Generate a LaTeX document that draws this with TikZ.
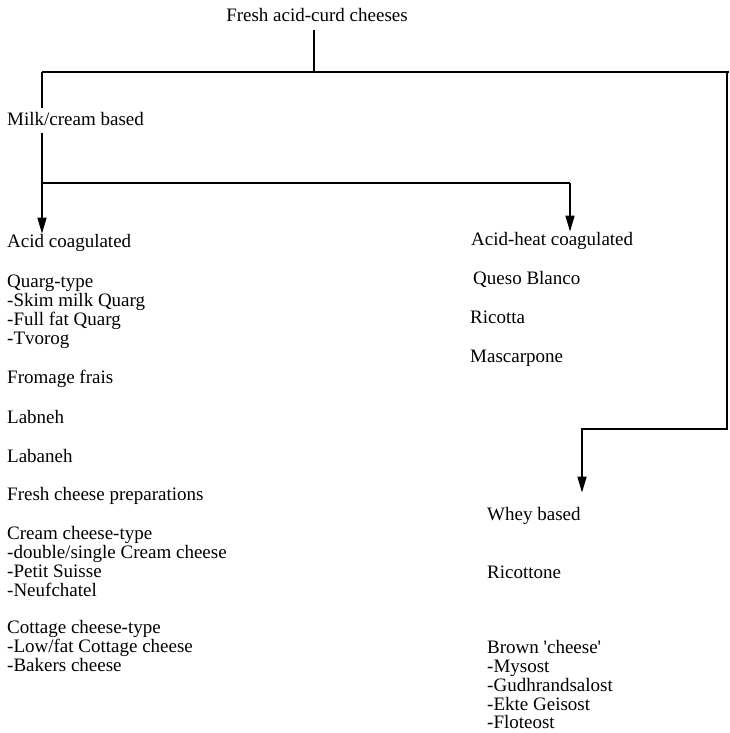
\documentclass[tikz,border=0pt]{standalone}
\usepackage{fontspec}
\setmainfont{Liberation Serif}
\usetikzlibrary{arrows.meta}
\begin{document}
\begin{tikzpicture}[x=1pt,y=-1pt,
  lbl/.style={anchor=base west, inner sep=0pt, font=\fontsize{19}{19}\selectfont},
  conn/.style={line width=1.6pt},
  arr/.style={conn, -{Triangle[length=16pt,width=9pt]}}]
\useasboundingbox (0,0) rectangle (729,733);
\fill[white] (0,0) rectangle (729,733);

% root
\node[lbl, anchor=base] (root) at (317,22) {Fresh acid-curd cheeses};

% main branches
\node[lbl] (milk) at (7,125) {Milk/cream based};
\node[lbl] (acid) at (7,247) {Acid coagulated};
\node[lbl] (heat) at (471,245) {Acid-heat coagulated};
\node[lbl] (whey) at (487,520) {Whey based};

% acid coagulated products
\node[lbl] (q0) at (7,287) {Quarg-type};
\node[lbl] (q1) at (7,306) {-Skim milk Quarg};
\node[lbl] (q2) at (7,325) {-Full fat Quarg};
\node[lbl] (q3) at (7,344) {-Tvorog};
\node[lbl] (ff) at (7,383) {Fromage frais};
\node[lbl] (lb1) at (7,423) {Labneh};
\node[lbl] (lb2) at (7,462) {Labaneh};
\node[lbl] (fcp) at (7,500) {Fresh cheese preparations};
\node[lbl] (c0) at (7,539) {Cream cheese-type};
\node[lbl] (c1) at (7,558) {-double/single Cream cheese};
\node[lbl] (c2) at (7,577) {-Petit Suisse};
\node[lbl] (c3) at (7,596) {-Neufchatel};
\node[lbl] (k0) at (7,633) {Cottage cheese-type};
\node[lbl] (k1) at (7,652) {-Low/fat Cottage cheese};
\node[lbl] (k2) at (7,671) {-Bakers cheese};

% acid-heat coagulated products
\node[lbl] (qb) at (473,284) {Queso Blanco};
\node[lbl] (ric) at (470,323) {Ricotta};
\node[lbl] (mas) at (470,362) {Mascarpone};

% whey based products
\node[lbl] (rtn) at (487,578) {Ricottone};
\node[lbl] (b0) at (487,653) {Brown \textquotesingle cheese\textquotesingle};
\node[lbl] (b1) at (487,672) {-Mysost};
\node[lbl] (b2) at (487,691) {-Gudhrandsalost};
\node[lbl] (b3) at (487,710) {-Ekte Geisost};
\node[lbl] (b4) at (487,728) {-Floteost};

% junction points
\coordinate (jT) at (314,72);
\coordinate (barL) at (42,72);
\coordinate (barR) at (729,72);
\coordinate (rTop) at (727,72);
\coordinate (jM) at (42,183);
\coordinate (jR) at (570,183);
\coordinate (rc) at (727,429);
\coordinate (wc) at (582,429);

% connectors
\draw[conn] (root.south -| jT) ++(0,8) -- (jT);
\draw[conn] (barL) -- (barR);
\draw[conn] (barL) -- ([yshift=4pt]barL |- milk.north);
\draw[arr] ([yshift=-8pt]barL |- milk.south) -- (barL |- acid.north);
\draw[conn] (jM) -- (jR);
\draw[arr] (jR) -- (jR |- heat.north);
\draw[arr, shorten >=14pt] (rTop) -- (rc) -- (wc) -- (wc |- whey.north);
\end{tikzpicture}
\end{document}
